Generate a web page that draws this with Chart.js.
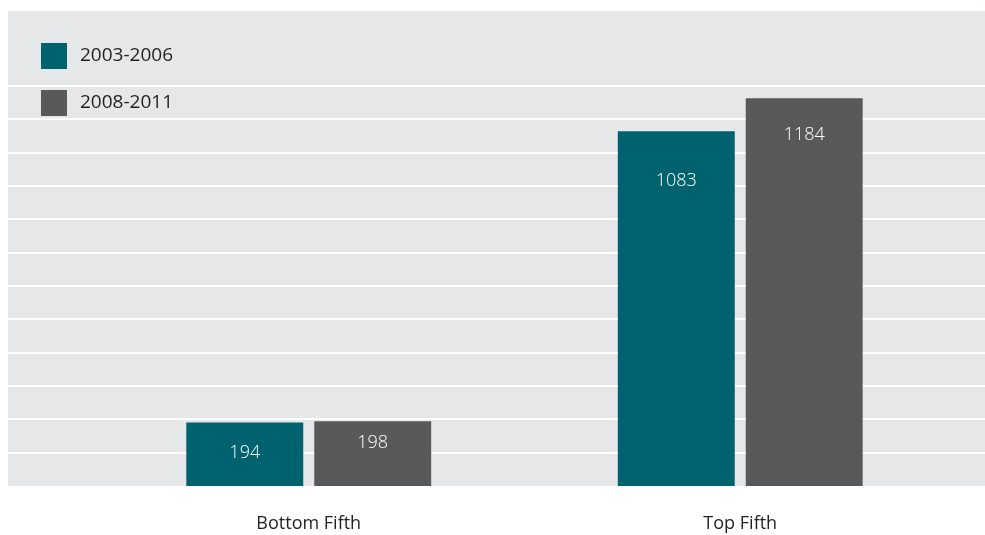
<!DOCTYPE html>
<html>
<head>
<meta charset="utf-8">
<script src="https://cdn.jsdelivr.net/npm/chart.js@4.4.1/dist/chart.umd.min.js"></script>
<style>
  html, body { margin: 0; padding: 0; background: #ffffff; }
  #wrap { width: 985px; height: 535px; }
</style>
</head>
<body>
<div id="wrap"><canvas id="chart" width="985" height="535"></canvas></div>
<script>
// chart data
const categories = ['Bottom Fifth', 'Top Fifth'];
const seriesNames = ['2003-2006', '2008-2011'];
const values2003 = [194, 1083];
const values2008 = [198, 1184];
const seriesColors = ['#00616f', '#58595b'];

// label drop below each bar top (px), per series then per category
const labelDrop = [[30, 50], [22, 37]];

const FONT = '"Open Sans", "DejaVu Sans", sans-serif';

// grey panel + white rules across the full width
const panelPlugin = {
    id: 'panel',
    beforeDraw(chart) {
        const { ctx, chartArea } = chart;
        const grid = chart.scales.grid;
        ctx.save();
        ctx.fillStyle = '#e6e7e8';
        ctx.fillRect(8, chartArea.top, chart.width - 8, chartArea.bottom - chartArea.top);
        ctx.strokeStyle = '#ffffff';
        ctx.lineWidth = 2.2;
        grid.ticks.forEach(t => {
            if (t.value < 1 || t.value > 12) return;
            const y = Math.round(grid.getPixelForValue(t.value));
            ctx.beginPath();
            ctx.moveTo(8, y);
            ctx.lineTo(chart.width, y);
            ctx.stroke();
        });
        ctx.restore();
    }
};

// values written inside the bars, and the legend
const labelPlugin = {
    id: 'barLabels',
    afterDatasetsDraw(chart) {
        const { ctx } = chart;
        ctx.save();
        ctx.fillStyle = '#ffffff';
        ctx.font = '300 18px ' + FONT;
        ctx.textAlign = 'center';
        ctx.textBaseline = 'middle';
        chart.data.datasets.forEach((ds, di) => {
            chart.getDatasetMeta(di).data.forEach((bar, i) => {
                ctx.fillText(String(ds.data[i]), bar.x, bar.y + labelDrop[di][i]);
            });
        });

        // legend
        ctx.textAlign = 'left';
        ctx.font = '19px ' + FONT;
        chart.data.datasets.forEach((ds, di) => {
            const cy = 56 + di * 47;
            ctx.fillStyle = ds.backgroundColor;
            ctx.fillRect(41, cy - 13, 26, 26);
            ctx.fillStyle = '#231f20';
            ctx.fillText(ds.label, 80, cy);
        });
        ctx.restore();
    }
};

new Chart(document.getElementById('chart').getContext('2d'), {
    type: 'bar',
    data: {
        labels: categories,
        datasets: [
            { label: seriesNames[0], data: values2003, backgroundColor: seriesColors[0] },
            { label: seriesNames[1], data: values2008, backgroundColor: seriesColors[1] }
        ]
    },
    options: {
        responsive: false,
        animation: false,
        layout: { padding: { left: 93, right: 29, top: 11, bottom: 0 } },
        datasets: {
            bar: { categoryPercentage: 0.593, barPercentage: 0.914 }
        },
        plugins: {
            legend: { display: false },
            tooltip: { enabled: false }
        },
        scales: {
            x: {
                grid: { display: false, drawTicks: false },
                border: { display: false },
                ticks: {
                    padding: 27,
                    color: '#231f20',
                    font: { family: FONT, size: 18 }
                },
                afterFit(scale) { scale.height = 49; }
            },
            y: {
                min: 0,
                max: 1450,
                grid: { display: false, drawTicks: false },
                border: { display: false },
                ticks: { display: false }
            },
            grid: {
                position: 'right',
                min: 0,
                max: 14.25,
                grid: { display: false, drawTicks: false },
                border: { display: false },
                ticks: { display: false, stepSize: 1 }
            }
        }
    },
    plugins: [panelPlugin, labelPlugin]
});
</script>
</body>
</html>
